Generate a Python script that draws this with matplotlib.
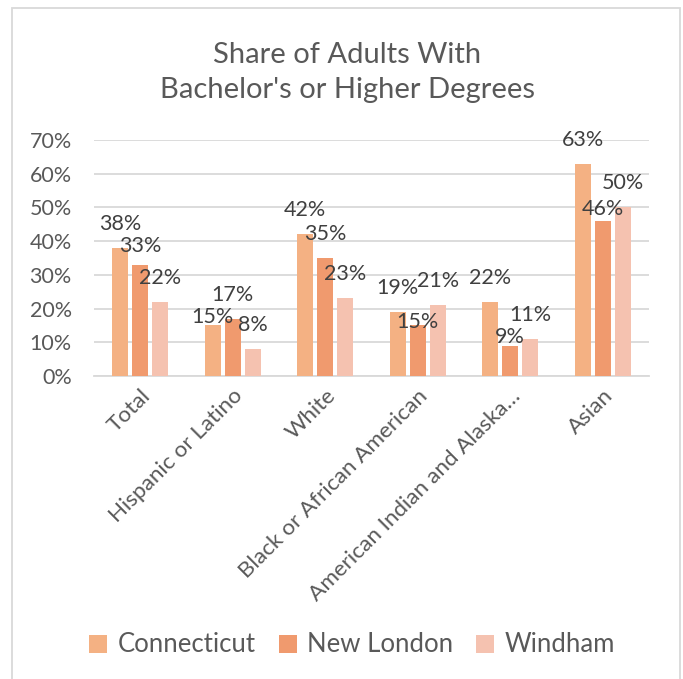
import matplotlib
matplotlib.use("Agg")
import matplotlib.pyplot as plt
from matplotlib.patches import Rectangle
import numpy as np

# ---- data -------------------------------------------------------------
categories = ["Total", "Hispanic or Latino", "White", "Black or African American",
              "American Indian and Alaska…", "Asian"]
series_names = ["Connecticut", "New London", "Windham"]
connecticut = [38, 15, 42, 19, 22, 63]
new_london = [33, 17, 35, 15, 9, 46]
windham = [22, 8, 23, 21, 11, 50]
y_ticks = [0, 10, 20, 30, 40, 50, 60, 70]

# ---- style ------------------------------------------------------------
colors = ["#F4B183", "#F09A6E", "#F5C2B0"]
# vertical gap (points) between bar top and its value label
label_offsets = [
    [13, 1.5, 13, 13, 13, 13],
    [9, 13, 13, -2, 2, 4],
    [13, 13, 13, 13, 13, 13],
]
FONT = "Lato"
plt.rcParams["font.family"] = [FONT, "DejaVu Sans"]
text_color = "#595959"
grid_color = "#D9D9D9"

W, H = 683, 679
fig = plt.figure(figsize=(W / 100, H / 100), dpi=100)
ax = fig.add_axes([94 / W, 1 - 376 / H, (649 - 94) / W, (376 - 140) / H])

series = [connecticut, new_london, windham]
x = np.arange(len(categories))
step = 0.216
width = 0.173
for i, (vals, name, col) in enumerate(zip(series, series_names, colors)):
    xs = x + (i - 1) * step
    frac = [v / 100 for v in vals]
    bars = ax.bar(xs, frac, width=width, color=col, label=name, zorder=3)
    for b, v, off in zip(bars, vals, label_offsets[i]):
        ax.annotate(f"{v}%", (b.get_x() + b.get_width() / 2, b.get_height()),
                    xytext=(0, off), textcoords="offset points",
                    ha="center", va="baseline", fontsize=15.5,
                    color="#404040", zorder=5)

ax.set_xlim(-0.5, len(categories) - 0.5)
ax.set_ylim(0, 0.7)
ax.set_yticks([t / 100 for t in y_ticks])
ax.set_yticklabels([f"{t}%" for t in y_ticks])
ax.yaxis.grid(True, color=grid_color, linewidth=1.3, zorder=0)
ax.set_axisbelow(True)
for s in ["top", "right", "left"]:
    ax.spines[s].set_visible(False)
ax.spines["bottom"].set_color(grid_color)
ax.spines["bottom"].set_linewidth(1.3)
ax.tick_params(axis="y", length=0, pad=16, labelsize=15.5, labelcolor=text_color)
ax.tick_params(axis="x", length=0, pad=7, labelsize=16.2, labelcolor=text_color)
ax.set_xticks(x)
ax.set_xticklabels(categories, rotation=45, ha="right", va="top",
                   rotation_mode="anchor")

fig.text(347 / W, 1 - 72.5 / H, "Share of Adults With\nBachelor's or Higher Degrees",
         ha="center", va="center", fontsize=21, color=text_color,
         linespacing=1.47)

fig.legend(loc="center", bbox_to_anchor=(352 / W, 1 - 645 / H), ncol=3,
           frameon=False, fontsize=18.5, labelcolor=text_color,
           handlelength=0.7, handleheight=0.7, handletextpad=0.4,
           columnspacing=0.9)

fig.patches.append(Rectangle((12 / W, -0.01), (680 - 12) / W, 1 - 8 / H + 0.01,
                             transform=fig.transFigure, fill=False,
                             edgecolor=grid_color, linewidth=1.3))

fig.savefig("out.png", dpi=100, facecolor="white")
